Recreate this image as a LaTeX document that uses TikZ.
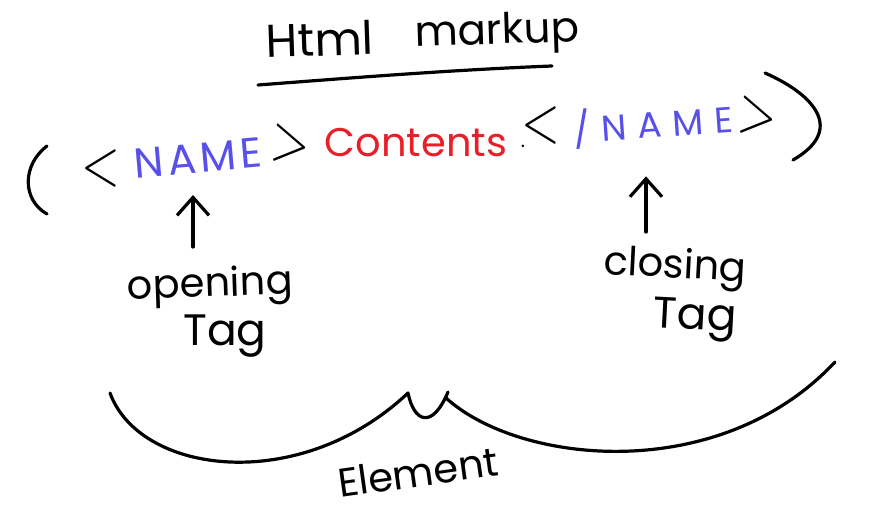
\documentclass[tikz,border=0pt]{standalone}
\usepackage{fontspec}
\setmainfont{Poppins}
\newfontfamily\brkfont{Latin Modern Roman}
\usetikzlibrary{arrows.meta,calc}

\definecolor{tagblue}{RGB}{88,80,232}
\definecolor{contred}{RGB}{232,30,40}

\newcommand{\penfont}[1]{\fontsize{#1}{#1}\selectfont}

\tikzset{
  pen/.style={line width=1.6pt,line cap=round,line join=round},
  arr/.style={pen,-{Straight Barb[length=9pt,width=16pt,line width=1.6pt]}},
  word/.style={inner sep=0pt,anchor=center},
  bracket/.style={word,xscale=0.75,font=\brkfont\penfont{34pt}},
}

\begin{document}
\begin{tikzpicture}[x=0.5pt,y=-0.5pt]

    \useasboundingbox[fill=white] (0,0) rectangle (872,522);

    % title
    \node[word,rotate=2] (html) at (320,39) {\penfont{23pt}Html};
    \node[word,rotate=2] (markup) at (497,34) {\penfont{21pt}markup};
    \draw[pen] (258,85) .. controls (350,78) and (450,70) .. (552,66);

    % opening tag
    \draw[pen] (47,146) .. controls (22,165) and (22,200) .. (47,214);
    \node[bracket] (lt1) at (101,169) {<};
    \node[word,rotate=5,text=tagblue] (name1) at (198,158)
      {\penfont{21pt}\addfontfeatures{LetterSpace=10}NAME};
    \node[bracket,rotate=-8] (gt1) at (291,145) {>};

    % contents
    \node[word,text=contred] (contents) at (416,143) {\penfont{20pt}Contents};
    \node[word] (dot) at (523,146) {\penfont{10pt}.};

    % closing tag
    \node[bracket] (lt2) at (541,126) {<};
    \node[word,rotate=4,text=tagblue] (name2) at (653,124)
      {\penfont{18pt}\addfontfeatures{LetterSpace=30}/NAME};
    \node[bracket,rotate=-8] (gt2) at (758,117) {>};
    \draw[pen] (765,73) .. controls (815,95) and (845,130) .. (793,160);

    % labels
    \node[word,rotate=2] (opening) at (210,287) {\penfont{20pt}opening};
    \node[word] (otag) at (225,336) {\penfont{22pt}Tag};
    \node[word,rotate=-3] (closing) at (675,268) {\penfont{20pt}closing};
    \node[word,rotate=-3] (ctag) at (695,320) {\penfont{22pt}Tag};

    \coordinate (openfoot) at (193,247);
    \coordinate (closefoot) at (646,232);
    \draw[arr,shorten >=11pt] (openfoot) -- (openfoot |- name1.south);
    \draw[arr,shorten >=16pt] (closefoot) -- (closefoot |- name2.south);

    % element brace
    \draw[pen] (110,393) .. controls (140,475) and (300,495) .. (408,393)
      .. controls (414,422) and (432,430) .. (448,392);
    \draw[pen] (446,398) .. controls (520,465) and (720,485) .. (835,362);
    \node[word,rotate=8] (element) at (418,472) {\penfont{20pt}Element};

\end{tikzpicture}
\end{document}
